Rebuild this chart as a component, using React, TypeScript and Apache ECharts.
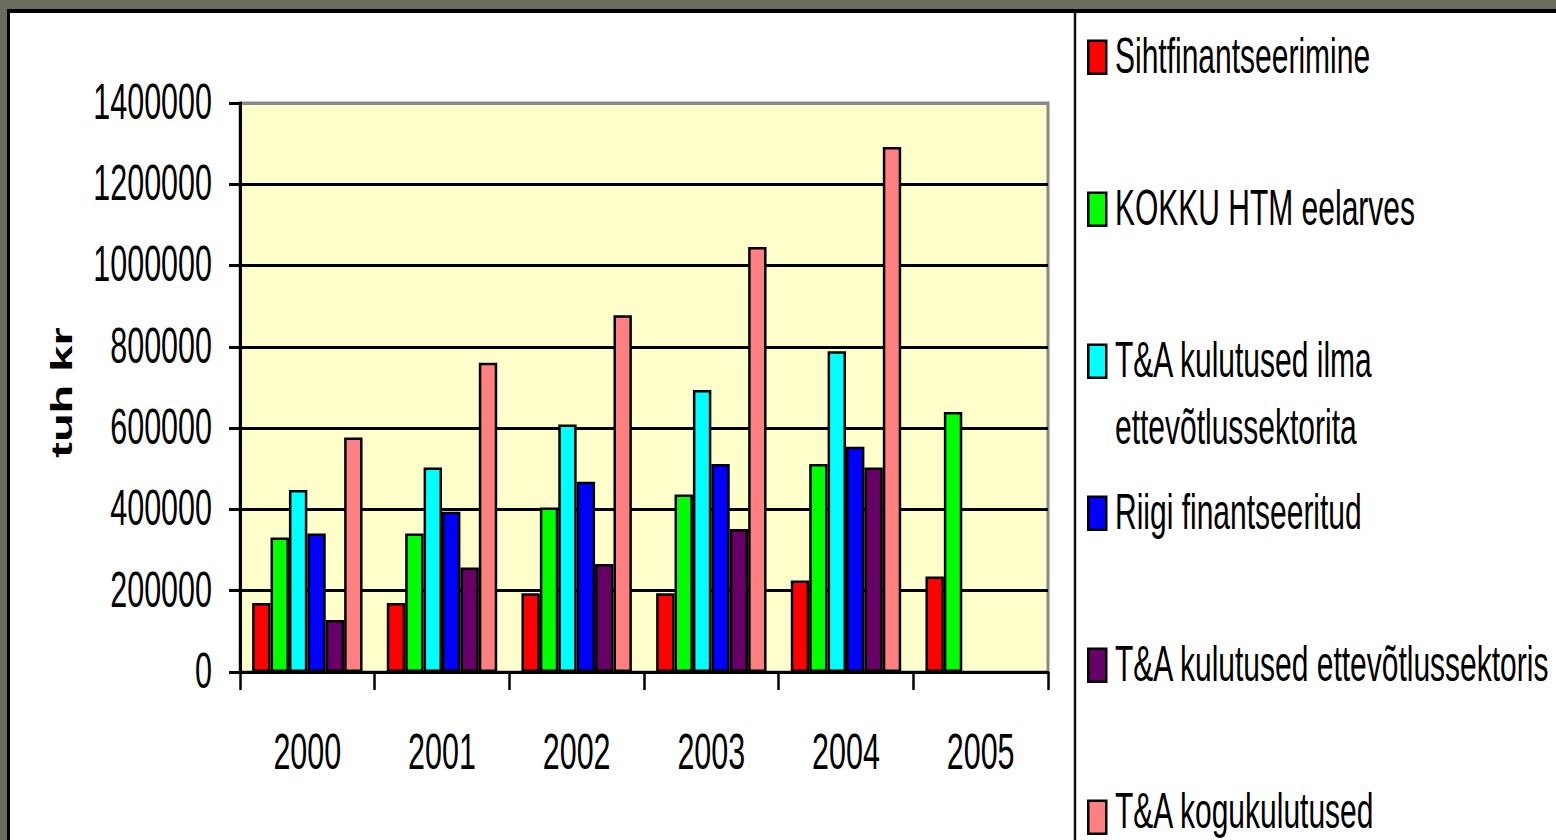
import React, { useEffect, useRef } from "react";
import * as echarts from "echarts";

const years = ["2000", "2001", "2002", "2003", "2004", "2005"];
const yTicks = [0, 200000, 400000, 600000, 800000, 1000000, 1200000, 1400000];
const sihtfinantseerimine = [170000, 170000, 194000, 194000, 225000, 235000];
const kokkuHtm = [331000, 341000, 405000, 437000, 512000, 640000];
const taIlmaEttev = [448000, 503000, 609000, 694000, 789000, null];
const riigiFin = [341000, 394000, 468000, 512000, 554000, null];
const taEttev = [128000, 257000, 266000, 352000, 503000, null];
const taKogu = [577000, 761000, 878000, 1046000, 1292000, null];

const seriesNames = [
  "Sihtfinantseerimine",
  "KOKKU HTM eelarves",
  "T&A kulutused ilma ettevõtlussektorita",
  "Riigi finantseeritud",
  "T&A kulutused ettevõtlussektoris",
  "T&A kogukulutused",
];
// legend text lines, as shown in the legend
const legendLines = [
  ["Sihtfinantseerimine"],
  ["KOKKU HTM eelarves"],
  ["T&A kulutused ilma", "ettevõtlussektorita"],
  ["Riigi finantseeritud"],
  ["T&A kulutused ettevõtlussektoris"],
  ["T&A kogukulutused"],
];
const seriesData = [sihtfinantseerimine, kokkuHtm, taIlmaEttev, riigiFin, taEttev, taKogu];
const colors = ["#FF0000", "#00FF00", "#00FFFF", "#0000FF", "#660066", "#FF8080"];

// layout
const GRID_LEFT = 240;
const GRID_TOP = 103;
const GRID_W = 808;
const GRID_H = 569;
const LEGEND_X = 1087;
const LEGEND_TEXT_X = 1115;
const LEGEND_C0 = 56;
const LEGEND_STEP = 152;
const LINE2_GAP = 67;
const FONT = "'Liberation Sans', Arial, sans-serif";
const FS = 50;
const SQX = 0.61;
const SQX_LEGEND = 0.6;

export default function App() {
  const ref = useRef<HTMLDivElement>(null);
  useEffect(() => {
    if (!ref.current) return;
    const chart = echarts.init(ref.current, undefined, { renderer: "svg" });
    chart.setOption({
      animation: false,
      grid: {
        left: GRID_LEFT,
        top: GRID_TOP,
        width: GRID_W,
        height: GRID_H,
        show: true,
        backgroundColor: "#FFFFCC",
        borderColor: "#888888",
        borderWidth: 3,
        outerBoundsMode: "none",
        containLabel: false,
      },
      xAxis: {
        type: "category",
        data: years,
        axisLine: { lineStyle: { color: "#000", width: 3 } },
        axisTick: { show: true, length: 18, inside: false, lineStyle: { color: "#000", width: 2.5 } },
        axisLabel: { show: false },
        splitLine: { show: false },
      },
      yAxis: {
        type: "value",
        min: 0,
        max: 1400000,
        interval: 200000,
        axisLine: { show: true, lineStyle: { color: "#000", width: 3 } },
        axisTick: { show: true, length: 11, lineStyle: { color: "#000", width: 3 } },
        axisLabel: { show: false },
        splitLine: {
          show: true,
          lineStyle: {
            color: ["#000", "#000", "#000", "#000", "#000", "#000", "#000", "#888888"],
            width: 2.8,
          },
        },
      },
      legend: seriesNames.map((name, i) => ({
        data: [name],
        orient: "vertical",
        left: LEGEND_X,
        top: LEGEND_C0 + i * LEGEND_STEP - 16.5,
        padding: 0,
        itemWidth: 18,
        itemHeight: 33,
        icon: "rect",
        selectedMode: false,
        itemStyle: { borderColor: "#000", borderWidth: 2.5 },
        textStyle: { fontSize: 10 },
        formatter: () => "",
      })),
      series: seriesNames.map((name, i) => ({
        name,
        type: "bar",
        data: seriesData[i],
        barGap: "0%",
        barCategoryGap: "18%",
        itemStyle: { color: colors[i], borderColor: "#000", borderWidth: 2.5 },
      })),
    });

    const baseY = chart.convertToPixel({ yAxisIndex: 0 }, 0) as number;
    const els: any[] = [];
    // y tick labels
    yTicks.forEach((v) => {
      els.push({
        type: "text",
        x: GRID_LEFT - 28,
        y: (chart.convertToPixel({ yAxisIndex: 0 }, v) as number) - 1,
        scaleX: SQX,
        style: { text: String(v), x: 0, y: 0, align: "right", verticalAlign: "middle", fontSize: FS, fontFamily: FONT, fill: "#000" },
      });
    });
    // x category labels
    years.forEach((yr) => {
      els.push({
        type: "text",
        x: chart.convertToPixel({ xAxisIndex: 0 }, yr) as number,
        y: baseY + 80,
        scaleX: SQX,
        style: { text: yr, x: 0, y: 0, align: "center", verticalAlign: "middle", fontSize: FS, fontFamily: FONT, fill: "#000" },
      });
    });
    // y axis title
    els.push({
      type: "text",
      x: 62,
      y: GRID_TOP + GRID_H / 2 + 5,
      rotation: Math.PI / 2,
      scaleY: 0.62,
      style: { text: "tuh kr", x: 0, y: 0, align: "center", verticalAlign: "middle", fontSize: 47, fontWeight: "bold", fontFamily: FONT, fill: "#000" },
    });
    // legend texts
    legendLines.forEach((lines, i) => {
      lines.forEach((t, j) => {
        const isLast = i === legendLines.length - 1;
        els.push({
          type: "text",
          x: LEGEND_TEXT_X,
          y: LEGEND_C0 + i * LEGEND_STEP + j * LINE2_GAP - (isLast ? 5 : 0),
          scaleX: SQX_LEGEND,
          style: { text: t, x: 0, y: 0, align: "left", verticalAlign: "middle", fontSize: FS, fontFamily: FONT, fill: "#000" },
        });
      });
    });
    // legend separator
    els.push({
      type: "line",
      shape: { x1: 1075, y1: 13, x2: 1075, y2: 840 },
      style: { stroke: "#111", lineWidth: 2.5 },
    });
    chart.setOption({ graphic: { elements: els } });
    return () => chart.dispose();
  }, []);

  return (
    <div
      style={{
        position: "fixed",
        left: 0,
        top: 0,
        width: 1556,
        height: 840,
        background: "#6b6d5c",
        overflow: "hidden",
      }}
    >
      <div
        style={{
          position: "absolute",
          left: 7,
          top: 9,
          width: 1600,
          height: 900,
          background: "#ffffff",
          borderLeft: "3px solid #000",
          borderTop: "4px solid #000",
        }}
      />
      <div ref={ref} style={{ position: "absolute", left: 0, top: 0, width: 1556, height: 840 }} />
    </div>
  );
}
